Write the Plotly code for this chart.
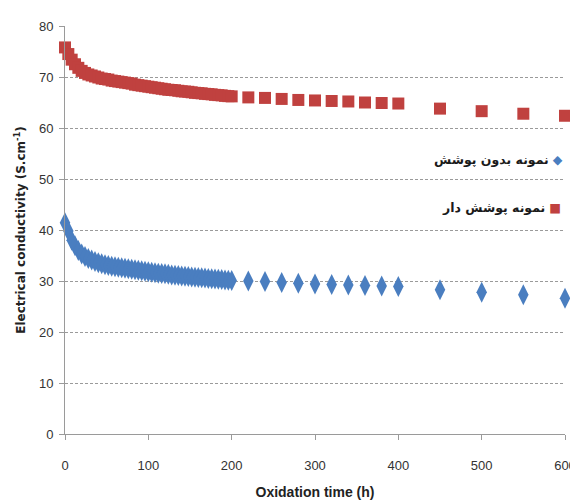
import plotly.graph_objects as go

# ---- data ----
time_h = [0, 4, 8, 12, 16, 20, 24, 28, 32, 36, 40, 44, 48, 52, 56, 60, 64, 68, 72, 76,
          80, 84, 88, 92, 96, 100, 104, 108, 112, 116, 120, 124, 128, 132, 136, 140, 144,
          148, 152, 156, 160, 164, 168, 172, 176, 180, 184, 188, 192, 196, 200,
          220, 240, 260, 280, 300, 320, 340, 360, 380, 400, 450, 500, 550, 600]

uncoated = [41.4, 39.8, 38.0, 36.9, 36.0, 35.3, 34.8, 34.4, 34.1, 33.8, 33.6, 33.4, 33.2,
            33.05, 32.9, 32.8, 32.7, 32.6, 32.5, 32.4, 32.3, 32.2, 32.1, 32.0, 31.9, 31.8,
            31.7, 31.6, 31.5, 31.45, 31.4, 31.3, 31.2, 31.15, 31.1, 31.0, 30.95, 30.9, 30.8,
            30.75, 30.7, 30.65, 30.6, 30.5, 30.45, 30.4, 30.35, 30.3, 30.2, 30.15, 30.1,
            30.0, 29.9, 29.7, 29.55, 29.4, 29.3, 29.2, 29.1, 29.0, 28.9, 28.3, 27.8, 27.3, 26.6]

coated = [75.8, 74.5, 73.4, 72.5, 71.8, 71.2, 70.8, 70.5, 70.3, 70.1, 69.9, 69.7, 69.6,
          69.5, 69.3, 69.2, 69.1, 69.0, 68.9, 68.8, 68.7, 68.5, 68.4, 68.3, 68.2, 68.1,
          68.0, 67.9, 67.8, 67.7, 67.6, 67.5, 67.45, 67.4, 67.3, 67.2, 67.15, 67.1, 67.0,
          66.9, 66.85, 66.8, 66.7, 66.65, 66.6, 66.5, 66.45, 66.4, 66.3, 66.25, 66.2,
          66.0, 65.9, 65.7, 65.5, 65.4, 65.3, 65.2, 65.0, 64.9, 64.8, 63.8, 63.3, 62.8, 62.4]

name_uncoated = "نمونه بدون پوشش"
name_coated = "نمونه پوشش دار"

x_ticks = [0, 100, 200, 300, 400, 500, 600]
y_ticks = [0, 10, 20, 30, 40, 50, 60, 70, 80]

BLUE = "#4A7EC0"
RED = "#C0413F"
GRID = "#9a9a9a"

fig = go.Figure()
fig.add_trace(go.Scatter(
    x=time_h, y=uncoated, mode="markers", name=name_uncoated, showlegend=False,
    marker=dict(symbol="diamond-tall", size=15, color=BLUE), cliponaxis=False))
fig.add_trace(go.Scatter(
    x=time_h, y=coated, mode="markers", name=name_coated, showlegend=False,
    marker=dict(symbol="square", size=12, color=RED), cliponaxis=False))

legend_font = dict(family="DejaVu Sans", size=12.5, color="#1a1a1a")
# page body has an 8px margin, so the figure is sized to fit inside it
fig.update_layout(
    width=570, height=495,
    margin=dict(l=57, r=13, t=18, b=69),
    paper_bgcolor="white", plot_bgcolor="white",
    font=dict(family="Liberation Sans Narrow, Arial Narrow, sans-serif", size=13, color="#333333"),
    showlegend=False,
    annotations=[
        dict(text="<b>" + name_uncoated + "</b> <span style='color:" + BLUE + "'>◆</span>",
             xref="paper", yref="paper", x=0.999, y=0.6716,
             xanchor="right", yanchor="middle", showarrow=False, font=legend_font),
        dict(text="<b>" + name_coated + "</b> <span style='color:" + RED + "'>■</span>",
             xref="paper", yref="paper", x=0.996, y=0.556,
             xanchor="right", yanchor="middle", showarrow=False, font=legend_font),
    ],
)

fig.update_xaxes(
    range=[0, 600], tickvals=x_ticks, showgrid=False, zeroline=False,
    showline=True, linecolor=GRID, linewidth=1,
    ticks="outside", ticklen=5, tickcolor=GRID,
    ticklabelstandoff=14, automargin=False,
    title=dict(text="<b>Oxidation time (h)</b>", standoff=15,
               font=dict(family="Liberation Sans Narrow, sans-serif", size=14, color="#222222")),
)
fig.update_yaxes(
    range=[0, 80], tickvals=y_ticks, showgrid=True, gridcolor=GRID,
    griddash="3px,2px", gridwidth=1, zeroline=False,
    showline=True, linecolor=GRID, linewidth=1,
    ticks="outside", ticklen=5, tickcolor=GRID,
    ticklabelstandoff=3, automargin=False,
    title=dict(text="<b>Electrical conductivity (S.cm<sup>-1</sup>)</b>", standoff=10,
               font=dict(family="DejaVu Sans", size=12, color="#222222")),
)

fig.write_html("out.html")
